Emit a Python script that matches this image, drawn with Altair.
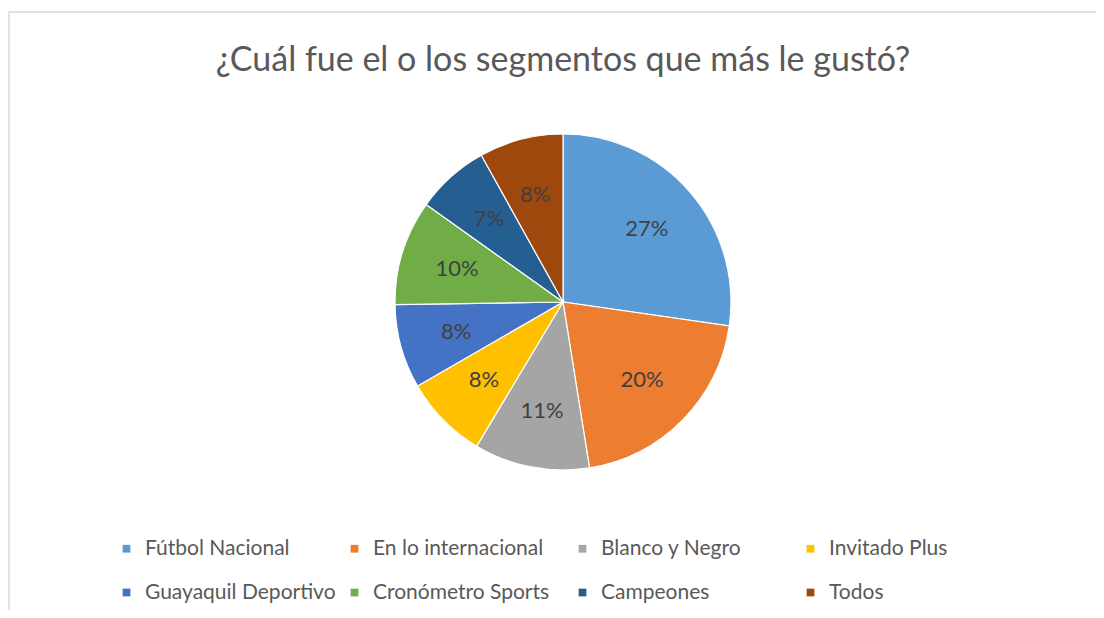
import altair as alt
import pandas as pd

categories = ["Fútbol Nacional", "En lo internacional", "Blanco y Negro", "Invitado Plus",
              "Guayaquil Deportivo", "Cronómetro Sports", "Campeones", "Todos"]
percentages = [27, 20, 11, 8, 8, 10, 7, 8]
colors = ["#5B9BD5", "#ED7D31", "#A5A5A5", "#FFC000", "#4472C4", "#70AD47", "#255E91", "#9E480E"]
labels = [f"{p}%" for p in percentages]
title_text = "¿Cuál fue el o los segmentos que más le gustó?"

df = pd.DataFrame({
    "segmento": categories,
    "pct": percentages,
    "label": labels,
    "orden": list(range(len(categories))),
})

W, H = 1088, 602
CX, CY, R = 555, 294, 168
FONT = "Lato"

base = alt.Chart(df).encode(
    theta=alt.Theta("pct:Q", stack=True),
    order=alt.Order("orden:Q", sort="ascending"),
)

pie = base.mark_arc(outerRadius=R, stroke="white", strokeWidth=1.2).encode(
    x=alt.value(CX), y=alt.value(CY),
    color=alt.Color(
        "segmento:N",
        scale=alt.Scale(domain=categories, range=colors),
        sort=categories,
        legend=alt.Legend(
            title=None, orient="none", legendX=108, legendY=530,
            direction="horizontal", columns=4, gridAlign="all",
            symbolType="square", symbolSize=60, symbolStrokeWidth=0,
            labelFont=FONT, labelFontSize=21, labelColor="#595959",
            labelOffset=8, columnPadding=8, rowPadding=22, labelLimit=0,
        ),
    ),
)

text = base.mark_text(radius=R * 0.66, font=FONT, fontSize=22, color="#404040").encode(
    x=alt.value(CX), y=alt.value(CY),
    text="label:N",
)

title = alt.Chart(alt.Data(values=[{"t": title_text}])).mark_text(
    font=FONT, fontSize=34, color="#595959", align="center", baseline="middle"
).encode(x=alt.value(CX), y=alt.value(53), text="t:N")

border = alt.Chart(alt.Data(values=[{"b": 1}])).mark_rect(
    fill="white", fillOpacity=0, stroke="#D9D9D9", strokeWidth=1.5
).encode(x=alt.value(1), y=alt.value(4), x2=alt.value(1300), y2=alt.value(900))

chart = alt.layer(border, pie, text, title).properties(
    width=W, height=H,
    autosize=alt.AutoSizeParams(type="none"),
    padding=0,
).configure_view(stroke=None)

chart.save("out.html", embed_options={"renderer": "svg", "actions": False})
